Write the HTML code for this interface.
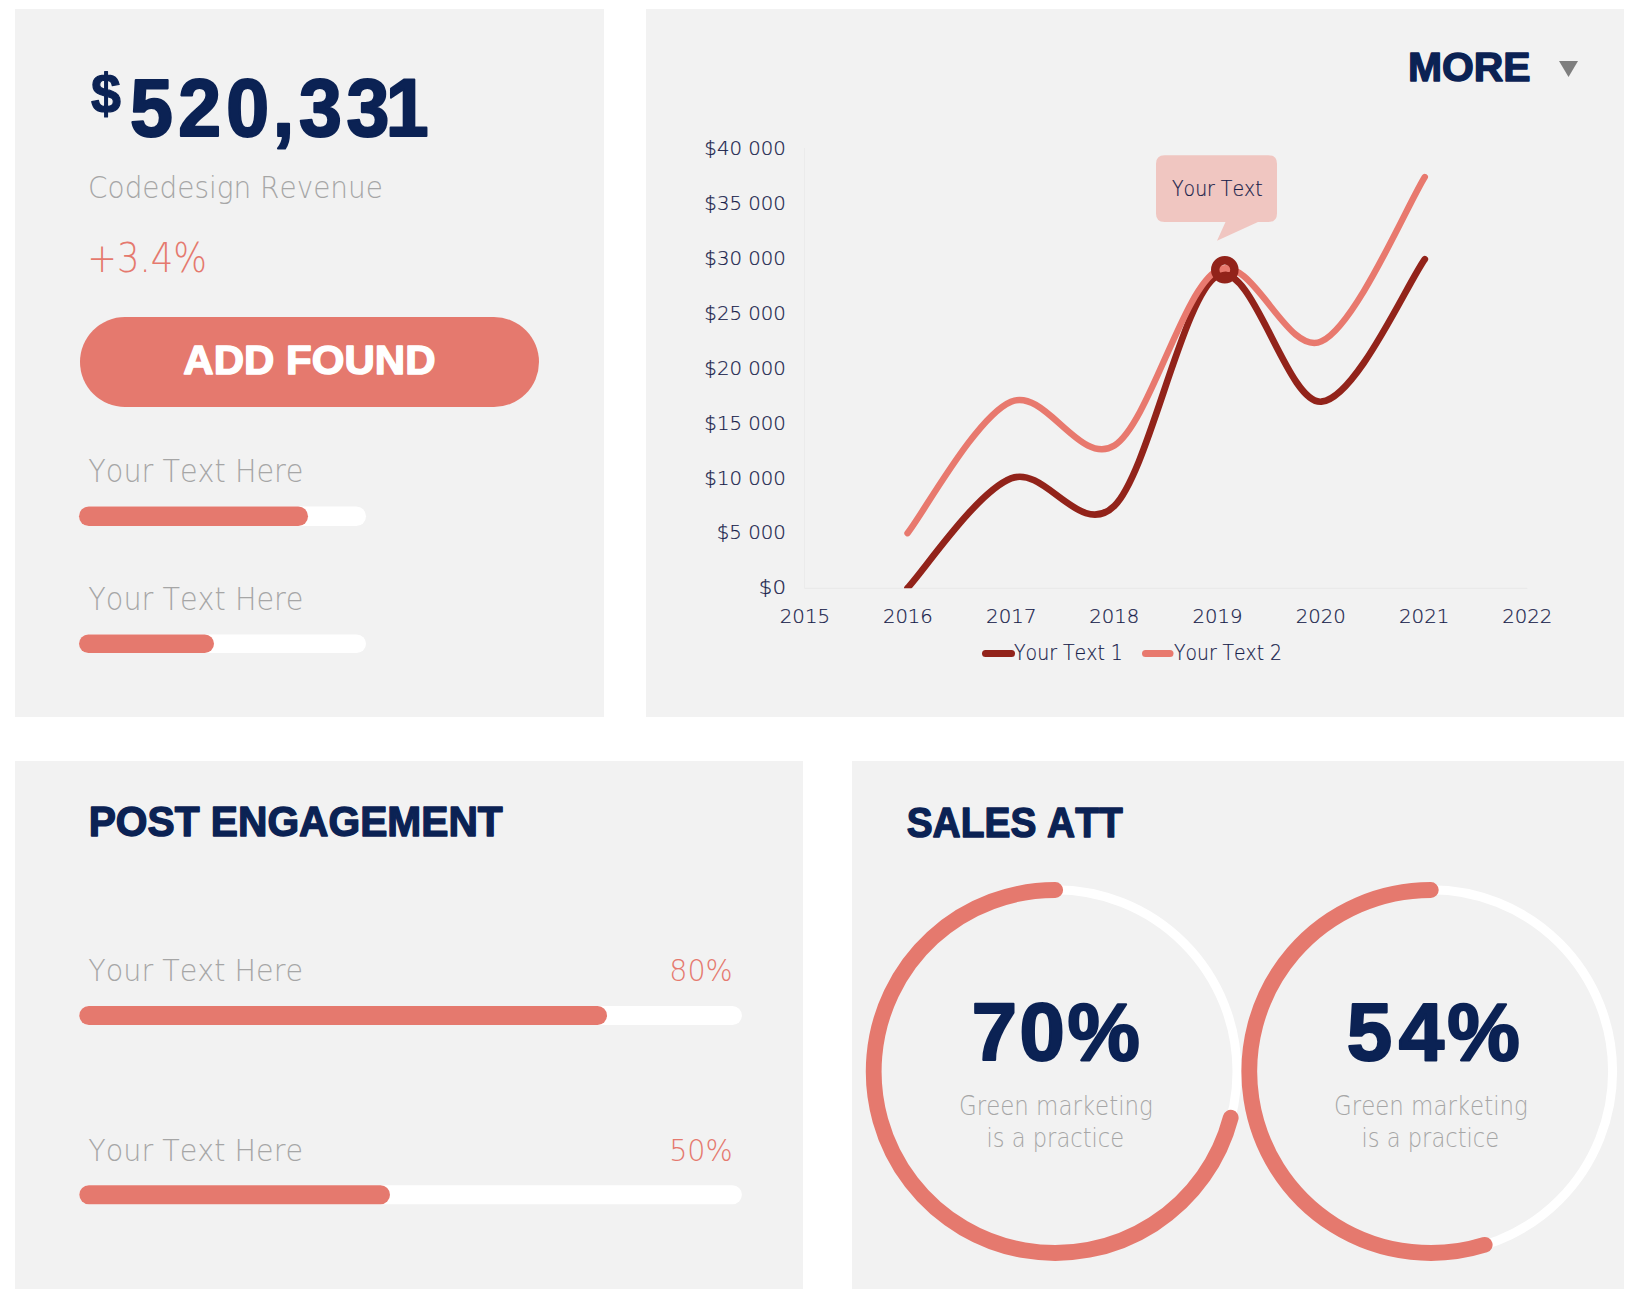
<!DOCTYPE html>
<html><head><meta charset="utf-8"><title>Dashboard</title>
<style>
html,body{margin:0;padding:0;background:#ffffff;}
body{width:1638px;height:1293px;overflow:hidden;}
svg{display:block;font-family:"Liberation Sans", Arial, sans-serif;font-kerning:none;}
.lt{font-family:"DejaVu Sans","Liberation Sans",sans-serif;font-weight:200;}
</style></head>
<body>
<svg width="1638" height="1293" viewBox="0 0 1638 1293">
<rect x="15" y="9" width="589" height="708" fill="#f2f2f2"/>
<rect x="646" y="9" width="978" height="708" fill="#f2f2f2"/>
<rect x="15" y="761" width="788" height="528" fill="#f2f2f2"/>
<rect x="852" y="761" width="772" height="528" fill="#f2f2f2"/>
<text x="90.89" y="112.87" font-size="55.61" fill="#0b2254" font-weight="bold" textLength="29.87" lengthAdjust="spacingAndGlyphs" stroke="#0b2254" stroke-width="1.20" stroke-linejoin="round">$</text>
<text x="138.38 189.67 240.58 290.18 318.19 368.72 410.35" y="135.90" font-size="81.92" fill="#0b2254" font-weight="bold" stroke="#0b2254" stroke-width="2.20" stroke-linejoin="round" transform="scale(0.9400,1)">520,331</text>
<text x="88.08" y="198.00" font-size="30.54" fill="#a6a6a6" class="lt" textLength="294.83" lengthAdjust="spacingAndGlyphs">Codedesign Revenue</text>
<text x="87.24" y="271.70" font-size="41.50" fill="#e5796e" class="lt" textLength="119.81" lengthAdjust="spacingAndGlyphs">+3.4%</text>
<rect x="80" y="317" width="459" height="90" rx="45" fill="#e5796e"/>
<text x="183.35" y="374.40" font-size="39.96" fill="#ffffff" font-weight="bold" textLength="252.21" lengthAdjust="spacingAndGlyphs" stroke="#ffffff" stroke-width="1.40" stroke-linejoin="round">ADD FOUND</text>
<text x="88.36" y="482.00" font-size="32.10" fill="#a6a6a6" class="lt" textLength="215.11" lengthAdjust="spacingAndGlyphs">Your Text Here</text>
<rect x="79" y="506.5" width="287" height="19.5" rx="9.75" fill="#ffffff"/>
<rect x="79" y="506.5" width="229" height="19.5" rx="9.75" fill="#e5796e"/>
<text x="88.36" y="610.20" font-size="32.10" fill="#a6a6a6" class="lt" textLength="215.11" lengthAdjust="spacingAndGlyphs">Your Text Here</text>
<rect x="79" y="634.5" width="287" height="18.5" rx="9.25" fill="#ffffff"/>
<rect x="79" y="634.5" width="135" height="18.5" rx="9.25" fill="#e5796e"/>
<text x="1407.97" y="80.90" font-size="40.39" fill="#0b2254" font-weight="bold" textLength="122.63" lengthAdjust="spacingAndGlyphs" stroke="#0b2254" stroke-width="1.40" stroke-linejoin="round">MORE</text>
<path d="M1559 61 L1578 61 L1568.5 77 Z" fill="#7f7f7f"/>
<line x1="804.5" y1="148" x2="804.5" y2="588.3" stroke="#ebebeb" stroke-width="1"/>
<line x1="804.5" y1="588.3" x2="1527.4" y2="588.3" stroke="#e8e8e8" stroke-width="1"/>
<text x="758.83" y="594.20" font-size="19.05" fill="#17214a" class="lt" textLength="27.15" lengthAdjust="spacingAndGlyphs" stroke="#17214a" stroke-width="0.2">$0</text>
<text x="716.76" y="539.35" font-size="19.05" fill="#17214a" class="lt" textLength="69.07" lengthAdjust="spacingAndGlyphs" stroke="#17214a" stroke-width="0.2">$5 000</text>
<text x="704.36" y="484.50" font-size="19.05" fill="#17214a" class="lt" textLength="81.46" lengthAdjust="spacingAndGlyphs" stroke="#17214a" stroke-width="0.2">$10 000</text>
<text x="704.36" y="429.65" font-size="19.05" fill="#17214a" class="lt" textLength="81.46" lengthAdjust="spacingAndGlyphs" stroke="#17214a" stroke-width="0.2">$15 000</text>
<text x="704.36" y="374.80" font-size="19.05" fill="#17214a" class="lt" textLength="81.46" lengthAdjust="spacingAndGlyphs" stroke="#17214a" stroke-width="0.2">$20 000</text>
<text x="704.36" y="319.95" font-size="19.05" fill="#17214a" class="lt" textLength="81.46" lengthAdjust="spacingAndGlyphs" stroke="#17214a" stroke-width="0.2">$25 000</text>
<text x="704.36" y="265.10" font-size="19.05" fill="#17214a" class="lt" textLength="81.46" lengthAdjust="spacingAndGlyphs" stroke="#17214a" stroke-width="0.2">$30 000</text>
<text x="704.36" y="210.25" font-size="19.05" fill="#17214a" class="lt" textLength="81.46" lengthAdjust="spacingAndGlyphs" stroke="#17214a" stroke-width="0.2">$35 000</text>
<text x="704.36" y="155.40" font-size="19.05" fill="#17214a" class="lt" textLength="81.46" lengthAdjust="spacingAndGlyphs" stroke="#17214a" stroke-width="0.2">$40 000</text>
<text x="779.73" y="622.70" font-size="19.34" fill="#17214a" class="lt" textLength="50.38" lengthAdjust="spacingAndGlyphs" stroke="#17214a" stroke-width="0.2">2015</text>
<text x="882.94" y="622.70" font-size="19.34" fill="#17214a" class="lt" textLength="49.86" lengthAdjust="spacingAndGlyphs" stroke="#17214a" stroke-width="0.2">2016</text>
<text x="986.13" y="622.70" font-size="19.34" fill="#17214a" class="lt" textLength="50.37" lengthAdjust="spacingAndGlyphs" stroke="#17214a" stroke-width="0.2">2017</text>
<text x="1089.34" y="622.70" font-size="19.34" fill="#17214a" class="lt" textLength="50.02" lengthAdjust="spacingAndGlyphs" stroke="#17214a" stroke-width="0.2">2018</text>
<text x="1192.54" y="622.70" font-size="19.34" fill="#17214a" class="lt" textLength="49.86" lengthAdjust="spacingAndGlyphs" stroke="#17214a" stroke-width="0.2">2019</text>
<text x="1295.74" y="622.70" font-size="19.34" fill="#17214a" class="lt" textLength="49.98" lengthAdjust="spacingAndGlyphs" stroke="#17214a" stroke-width="0.2">2020</text>
<text x="1398.92" y="622.70" font-size="19.34" fill="#17214a" class="lt" textLength="50.49" lengthAdjust="spacingAndGlyphs" stroke="#17214a" stroke-width="0.2">2021</text>
<text x="1502.13" y="622.70" font-size="19.34" fill="#17214a" class="lt" textLength="50.14" lengthAdjust="spacingAndGlyphs" stroke="#17214a" stroke-width="0.2">2022</text>
<defs><clipPath id="pa"><rect x="700" y="100" width="900" height="488.3"/></clipPath></defs>
<g clip-path="url(#pa)" fill="none" stroke-linecap="round" stroke-linejoin="round">
<path d="M907.5 588.0 C924.7 569.7 976.5 492.1 1011.0 478.4 C1045.4 464.7 1079.9 539.6 1114.4 505.8 C1148.9 472.0 1183.4 293.0 1217.8 275.6 C1252.3 258.3 1286.8 404.4 1321.3 401.7 C1355.8 398.9 1407.5 282.9 1424.8 259.2" stroke="#92231a" stroke-width="6.7"/>
<path d="M907.5 533.2 C924.7 511.3 976.5 416.3 1011.0 401.7 C1045.4 387.1 1079.9 467.4 1114.4 445.5 C1148.9 423.6 1183.4 287.5 1217.8 270.2 C1252.3 252.8 1286.8 356.9 1321.3 341.4 C1355.8 325.9 1407.5 204.4 1424.8 177.0" stroke="#e8796e" stroke-width="6.4"/>
</g>
<circle cx="1224.8" cy="269.8" r="9.6" fill="none" stroke="#92231a" stroke-width="8.4"/>
<path d="M1164.5 155.2 H1268.5 Q1277 155.2 1277 163.7 V213.4 Q1277 221.9 1268.5 221.9 H1258 L1217 240.7 L1225.5 221.9 H1164.5 Q1156 221.9 1156 213.4 V163.7 Q1156 155.2 1164.5 155.2 Z" fill="#f0c6c1"/>
<text x="1172.08" y="196.30" font-size="20.99" fill="#17214a" class="lt" textLength="90.50" lengthAdjust="spacingAndGlyphs" stroke="#17214a" stroke-width="0.2">Your Text</text>
<line x1="985.5" y1="653.4" x2="1011.5" y2="653.4" stroke="#92231a" stroke-width="7" stroke-linecap="round"/>
<text x="1014.07" y="659.80" font-size="20.71" fill="#17214a" class="lt" textLength="108.83" lengthAdjust="spacingAndGlyphs" stroke="#17214a" stroke-width="0.2">Your Text 1</text>
<line x1="1145.5" y1="653.4" x2="1170" y2="653.4" stroke="#e8796e" stroke-width="7" stroke-linecap="round"/>
<text x="1174.08" y="659.80" font-size="20.35" fill="#17214a" class="lt" textLength="107.80" lengthAdjust="spacingAndGlyphs" stroke="#17214a" stroke-width="0.2">Your Text 2</text>
<text x="88.68" y="836.30" font-size="42.11" fill="#0b2254" font-weight="bold" textLength="414.06" lengthAdjust="spacingAndGlyphs" stroke="#0b2254" stroke-width="1.40" stroke-linejoin="round">POST ENGAGEMENT</text>
<text x="88.36" y="981.30" font-size="30.59" fill="#a6a6a6" class="lt" textLength="214.61" lengthAdjust="spacingAndGlyphs">Your Text Here</text>
<text x="669.31" y="980.80" font-size="29.37" fill="#e5796e" class="lt" textLength="63.42" lengthAdjust="spacingAndGlyphs">80%</text>
<rect x="79.3" y="1006" width="662.6" height="19" rx="9.5" fill="#ffffff"/>
<rect x="79.3" y="1006" width="527.7" height="19" rx="9.5" fill="#e5796e"/>
<text x="88.36" y="1161.10" font-size="30.59" fill="#a6a6a6" class="lt" textLength="214.61" lengthAdjust="spacingAndGlyphs">Your Text Here</text>
<text x="669.18" y="1160.80" font-size="29.64" fill="#e5796e" class="lt" textLength="63.56" lengthAdjust="spacingAndGlyphs">50%</text>
<rect x="79.3" y="1185.2" width="662.6" height="19" rx="9.5" fill="#ffffff"/>
<rect x="79.3" y="1185.2" width="310.7" height="19" rx="9.5" fill="#e5796e"/>
<text x="906.68" y="836.60" font-size="42.54" fill="#0b2254" font-weight="bold" textLength="216.04" lengthAdjust="spacingAndGlyphs" stroke="#0b2254" stroke-width="1.40" stroke-linejoin="round">SALES ATT</text>
<circle cx="1055.2" cy="1071.5" r="181.8" fill="none" stroke="#ffffff" stroke-width="9"/>
<path d="M1055.20 890.00 A181.50 181.50 0 1 0 1230.71 1117.74" fill="none" stroke="#e5796e" stroke-width="15.8" stroke-linecap="round"/>
<text x="971.82 1019.44 1067.39" y="1060.20" font-size="81.35" fill="#0b2254" font-weight="bold" stroke="#0b2254" stroke-width="2.20" stroke-linejoin="round">70%</text>
<text x="958.99" y="1115.10" font-size="26.98" fill="#a6a6a6" class="lt" textLength="193.81" lengthAdjust="spacingAndGlyphs">Green marketing</text>
<text x="986.56" y="1146.90" font-size="26.59" fill="#a6a6a6" class="lt" textLength="137.55" lengthAdjust="spacingAndGlyphs">is a practice</text>
<circle cx="1430.8" cy="1071.5" r="181.8" fill="none" stroke="#ffffff" stroke-width="9"/>
<path d="M1430.80 890.00 A181.50 181.50 0 1 0 1484.71 1244.81" fill="none" stroke="#e5796e" stroke-width="15.8" stroke-linecap="round"/>
<text x="1346.78 1398.70 1447.17" y="1060.20" font-size="81.63" fill="#0b2254" font-weight="bold" stroke="#0b2254" stroke-width="2.20" stroke-linejoin="round">54%</text>
<text x="1333.99" y="1115.10" font-size="26.98" fill="#a6a6a6" class="lt" textLength="193.81" lengthAdjust="spacingAndGlyphs">Green marketing</text>
<text x="1361.56" y="1146.90" font-size="26.59" fill="#a6a6a6" class="lt" textLength="137.55" lengthAdjust="spacingAndGlyphs">is a practice</text>
</svg>
</body></html>
